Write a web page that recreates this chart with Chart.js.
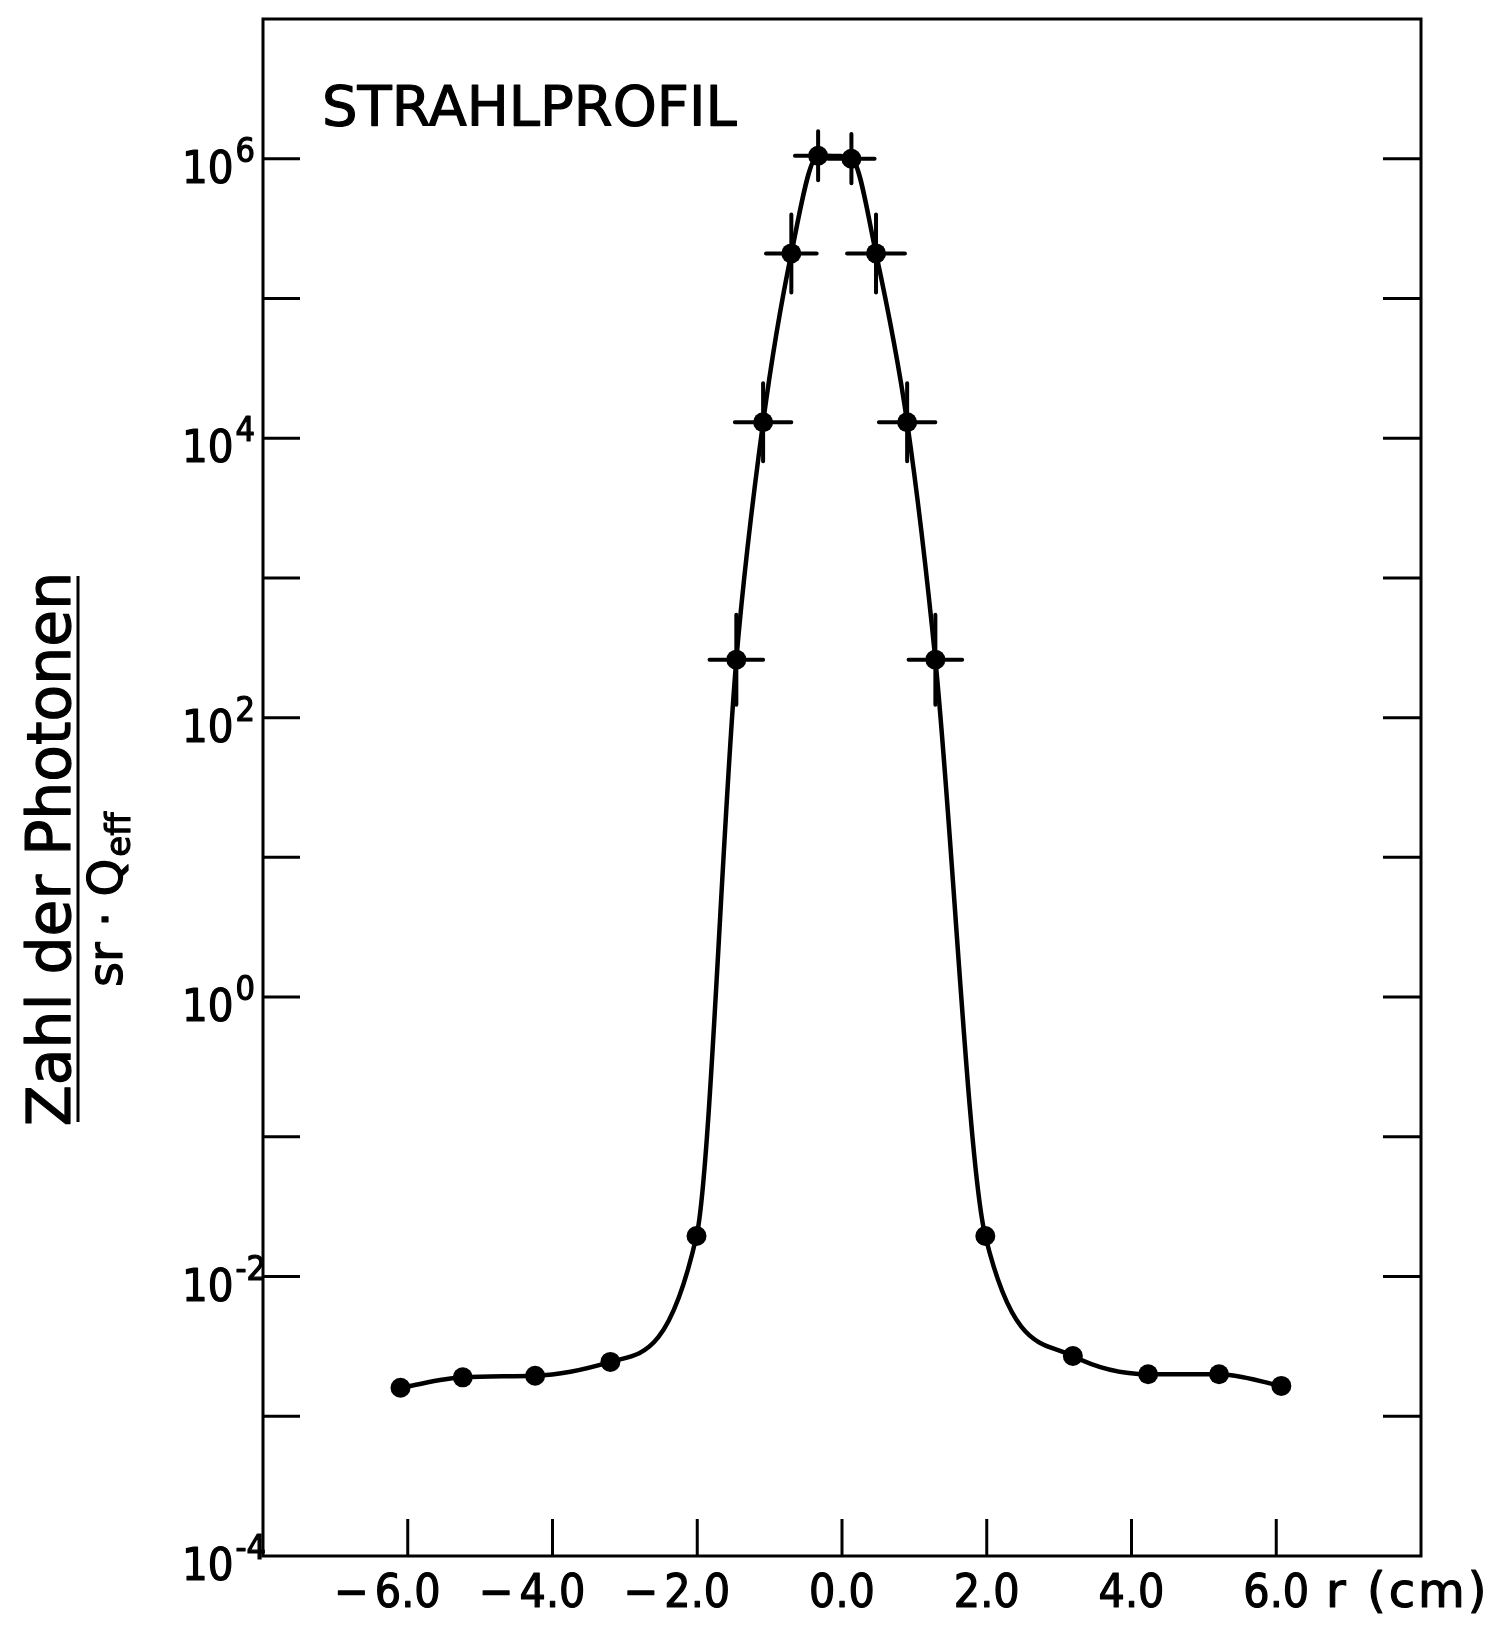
<!DOCTYPE html>
<html>
<head>
<meta charset="utf-8">
<title>Strahlprofil</title>
<script src="https://cdn.jsdelivr.net/npm/chart.js@4.4.1/dist/chart.umd.min.js"></script>
<style>
    html, body { margin: 0; padding: 0; background: #fff; }
    canvas { display: block; }
</style>
</head>
<body>
<canvas id="profileChart" width="1510" height="1628"></canvas>
<script>
// Measured beam profile: photons per sr and Q_eff against radius r (cm)
const radius = [-6.10, -5.24, -4.24, -3.20, -2.01, -1.46, -1.09, -0.70, -0.33, 0.13, 0.47, 0.90, 1.29, 1.98, 3.19, 4.23, 5.21, 6.07];
const photons = [1.6e-3, 1.9e-3, 1.95e-3, 2.45e-3, 1.95e-2, 260, 1.3e4, 2.1e5, 1.05e6, 1.0e6, 2.1e5, 1.3e4, 260, 1.95e-2, 2.7e-3, 2.0e-3, 2.0e-3, 1.65e-3];
// half width of the horizontal error bars in cm (0 = no bar)
const radiusErr = [0, 0, 0, 0, 0, 0.37, 0.39, 0.35, 0.32, 0.32, 0.40, 0.39, 0.37, 0, 0, 0, 0, 0];
// vertical error bars as a factor up and down (1 = no bar)
const photonsErr = [1, 1, 1, 1, 1, 2.1, 1.9, 1.9, 1.5, 1.5, 1.9, 1.9, 2.1, 1, 1, 1, 1, 1];

// axes
const xTicks = [-6, -4, -2, 0, 2, 4, 6];
const xTickLabels = ['\u22126.0', '\u22124.0', '\u22122.0', '0.0', '2.0', '4.0', '6.0'];
const yTicks = [1e-3, 1e-2, 1e-1, 1e0, 1e1, 1e2, 1e3, 1e4, 1e5, 1e6];
const yLabelValues = [1e6, 1e4, 1e2, 1e0, 1e-2, 1e-4];
const yLabelExps = ['6', '4', '2', '0', '-2', '-4'];

const NUM_FONT = '"DejaVu Sans Condensed", "DejaVu Sans", sans-serif';
const TEXT_FONT = '"DejaVu Sans", sans-serif';

// filled text with a thin outline so the strokes come out a little heavier
function inkText(ctx, text, x, y) {
    ctx.fillText(text, x, y);
    ctx.strokeText(text, x, y);
}

document.addEventListener('DOMContentLoaded', () => {
    const ctx = document.getElementById('profileChart').getContext('2d');

    // error crosses around the points of the central peak
    const errorBars = {
        id: 'errorBars',
        afterDatasetsDraw(chart) {
            const { ctx, scales: { x, y } } = chart;
            ctx.save();
            ctx.strokeStyle = '#000';
            ctx.lineWidth = 4;
            ctx.lineCap = 'round';
            ctx.beginPath();
            radius.forEach((r, i) => {
                const px = x.getPixelForValue(r);
                const py = y.getPixelForValue(photons[i]);
                if (radiusErr[i] > 0) {
                    ctx.moveTo(x.getPixelForValue(r - radiusErr[i]), py);
                    ctx.lineTo(x.getPixelForValue(r + radiusErr[i]), py);
                }
                if (photonsErr[i] > 1) {
                    ctx.moveTo(px, y.getPixelForValue(photons[i] * photonsErr[i]));
                    ctx.lineTo(px, y.getPixelForValue(photons[i] / photonsErr[i]));
                }
            });
            ctx.stroke();
            ctx.restore();
        }
    };

    // box, inward ticks, tick labels and titles
    const frame = {
        id: 'frame',
        afterDraw(chart) {
            const { ctx, chartArea: a, scales: { x, y } } = chart;
            ctx.save();
            ctx.strokeStyle = '#000';
            ctx.fillStyle = '#000';
            ctx.lineWidth = 3;
            ctx.strokeRect(a.left, a.top, a.right - a.left, a.bottom - a.top);

            ctx.beginPath();
            xTicks.forEach(v => {
                const px = x.getPixelForValue(v);
                ctx.moveTo(px, a.bottom);
                ctx.lineTo(px, a.bottom - 37);
            });
            yTicks.forEach(v => {
                const py = y.getPixelForValue(v);
                ctx.moveTo(a.left, py);
                ctx.lineTo(a.left + 37, py);
                ctx.moveTo(a.right, py);
                ctx.lineTo(a.right - 38, py);
            });
            ctx.stroke();

            ctx.lineWidth = 1.2;
            ctx.lineJoin = 'round';

            // x labels: number centred on the tick, minus sign hanging left
            ctx.textBaseline = 'alphabetic';
            ctx.font = '46px ' + NUM_FONT;
            xTicks.forEach((v, i) => {
                const px = x.getPixelForValue(v);
                let label = xTickLabels[i];
                const neg = label.startsWith('\u2212');
                if (neg) label = label.slice(1);
                const w = ctx.measureText(label).width;
                ctx.textAlign = 'center';
                inkText(ctx, label, px, 1607);
                if (neg) {
                    ctx.textAlign = 'right';
                    inkText(ctx, '\u2212', px - w / 2 - 6, 1607);
                }
            });
            ctx.textAlign = 'left';
            ctx.font = '48px ' + TEXT_FONT;
            ctx.letterSpacing = '3px';
            inkText(ctx, 'r (cm)', 1326, 1607);
            ctx.letterSpacing = '0px';

            // y labels as powers of ten
            yLabelValues.forEach((v, i) => {
                const py = y.getPixelForValue(v);
                const left = 182;
                ctx.font = '45px ' + NUM_FONT;
                const wb = ctx.measureText('10').width;
                inkText(ctx, '10', left, py + 24);
                ctx.font = '34px ' + NUM_FONT;
                inkText(ctx, yLabelExps[i], left + wb + 2, py + 3);
            });

            // panel title
            ctx.font = '56px ' + TEXT_FONT;
            inkText(ctx, 'STRAHLPROFIL', 322, 125);

            // y axis title as a fraction, read bottom to top
            ctx.translate(78, 849);
            ctx.rotate(-Math.PI / 2);
            ctx.lineWidth = 3;
            ctx.beginPath();
            ctx.moveTo(-273, 0);
            ctx.lineTo(273, 0);
            ctx.stroke();
            ctx.lineWidth = 1.2;
            ctx.textAlign = 'center';
            ctx.font = '60px ' + TEXT_FONT;
            inkText(ctx, 'Zahl der Photonen', 0, -8);
            ctx.textAlign = 'left';
            ctx.font = '48px ' + TEXT_FONT;
            const den = 'sr \u00b7 Q';
            const wd = ctx.measureText(den).width;
            inkText(ctx, den, -138, 44);
            ctx.font = '34px ' + TEXT_FONT;
            inkText(ctx, 'eff', -138 + wd + 2, 52);
            ctx.restore();
        }
    };

    new Chart(ctx, {
        type: 'line',
        data: {
            datasets: [{
                data: radius.map((r, i) => ({ x: r, y: photons[i] })),
                borderColor: '#000',
                borderWidth: 4.5,
                cubicInterpolationMode: 'monotone',
                pointRadius: 10,
                pointBackgroundColor: '#000',
                pointBorderWidth: 0,
                fill: false
            }]
        },
        options: {
            responsive: false,
            animation: false,
            layout: { padding: { left: 263, right: 89, top: 19, bottom: 72 } },
            plugins: {
                legend: { display: false },
                tooltip: { enabled: false }
            },
            scales: {
                x: { type: 'linear', min: -8, max: 8, display: false },
                y: { type: 'logarithmic', min: 1e-4, max: 1e7, display: false }
            }
        },
        plugins: [errorBars, frame]
    });
});
</script>
</body>
</html>
